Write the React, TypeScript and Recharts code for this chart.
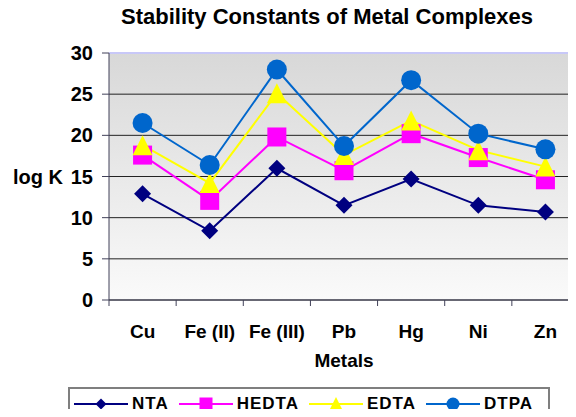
import React from "react";
import { LineChart, Line, XAxis, YAxis, CartesianGrid, ReferenceLine } from "recharts";

// values
const metals = ["Cu", "Fe (II)", "Fe (III)", "Pb", "Hg", "Ni", "Zn"];
const nta = [12.9, 8.4, 16.0, 11.5, 14.7, 11.5, 10.7];
const hedta = [17.6, 12.1, 19.8, 15.7, 20.2, 17.3, 14.6];
const edta = [18.8, 14.2, 25.1, 17.6, 21.8, 18.2, 16.2];
const dtpa = [21.5, 16.4, 28.0, 18.7, 26.7, 20.2, 18.3];
const yTicks = [0, 5, 10, 15, 20, 25, 30];

const data = metals.map((m, i) => ({
  metal: m,
  NTA: nta[i],
  HEDTA: hedta[i],
  EDTA: edta[i],
  DTPA: dtpa[i],
}));

const CHART_W = 590;
const CHART_H = 417;
const Y_AXIS_W = 109;
const MARGIN_R = 11;
const PLOT_W = CHART_W - Y_AXIS_W - MARGIN_R;
const STEP = PLOT_W / metals.length;
const AXIS_COLOR = "#404058";
const FONT = "'Liberation Sans', Arial, sans-serif";

const series = [
  { key: "NTA", color: "#000080", shape: "diamond" },
  { key: "HEDTA", color: "#FF00FF", shape: "square" },
  { key: "EDTA", color: "#FFFF00", shape: "triangle" },
  { key: "DTPA", color: "#0066CC", shape: "circle" },
];

function Marker({ shape, cx, cy, color, s }: { shape: string; cx: number; cy: number; color: string; s: number }) {
  if (shape === "diamond") {
    return <path d={`M${cx},${cy - s}L${cx + s},${cy}L${cx},${cy + s}L${cx - s},${cy}Z`} fill={color} />;
  }
  if (shape === "square") {
    return <rect x={cx - s} y={cy - s} width={s * 2} height={s * 2} fill={color} />;
  }
  if (shape === "triangle") {
    return <path d={`M${cx},${cy - s}L${cx + s},${cy + s}L${cx - s},${cy + s}Z`} fill={color} />;
  }
  return <circle cx={cx} cy={cy} r={s} fill={color} />;
}

const dotSize: Record<string, number> = { diamond: 8.5, square: 9.5, triangle: 10, circle: 10 };
const legendSize: Record<string, number> = { diamond: 5.5, square: 6.5, triangle: 7, circle: 6.5 };

function XTick(props: any) {
  const { x, y, payload, index } = props;
  return (
    <g>
      <line x1={x - STEP / 2} y1={y} x2={x - STEP / 2} y2={y + 6} stroke={AXIS_COLOR} />
      {index === metals.length - 1 && (
        <line x1={x + STEP / 2} y1={y} x2={x + STEP / 2} y2={y + 6} stroke={AXIS_COLOR} />
      )}
      <text x={x} y={y + 38} textAnchor="middle" fontSize={19} fontWeight="bold" fill="#000" fontFamily={FONT}>
        {payload.value}
      </text>
    </g>
  );
}

function LegendBox() {
  return (
    <div
      style={{
        position: "absolute",
        left: 68,
        top: 387,
        boxSizing: "border-box",
        width: 482,
        height: 34,
        border: "2px solid #7f7f7f",
        display: "flex",
        alignItems: "flex-start",
        paddingTop: 5,
        paddingLeft: 4,
        fontFamily: FONT,
        fontWeight: "bold",
        fontSize: 17,
        lineHeight: "20px",
        letterSpacing: 1,
        color: "#000",
      }}
    >
      {series.map((s) => (
        <div key={s.key} style={{ display: "flex", alignItems: "center", marginRight: 10 }}>
          <svg width={54} height={20} style={{ display: "block" }}>
            <line x1={0} y1={10} x2={54} y2={10} stroke={s.color} strokeWidth={2} />
            <Marker shape={s.shape} cx={27} cy={10} color={s.color} s={legendSize[s.shape]} />
          </svg>
          <span style={{ marginLeft: 4 }}>{s.key}</span>
        </div>
      ))}
    </div>
  );
}

export default function App() {
  return (
    <div style={{ position: "relative", width: 576, height: 417, overflow: "hidden", margin: -8, background: "#fff" }}>
      <svg width={0} height={0} style={{ position: "absolute" }}>
        <defs>
          <linearGradient id="plotBg" x1="0" y1="0" x2="0" y2="1">
            <stop offset="0%" stopColor="#d8d8d8" />
            <stop offset="100%" stopColor="#fafafa" />
          </linearGradient>
        </defs>
      </svg>
      <div
        style={{
          position: "absolute",
          left: 0,
          top: 4,
          width: 654,
          textAlign: "center",
          fontFamily: FONT,
          fontWeight: "bold",
          fontSize: 22,
          zIndex: 1,
        }}
      >
        Stability Constants of Metal Complexes
      </div>
      <LineChart width={CHART_W} height={CHART_H} data={data} margin={{ top: 53, right: MARGIN_R, bottom: 32, left: 0 }}>
        <CartesianGrid vertical={false} stroke="#222" fill="url(#plotBg)" fillOpacity={1} />
        <ReferenceLine y={30} stroke="#c8c8f8" strokeWidth={2} />
        <XAxis
          dataKey="metal"
          padding={{ left: STEP / 2, right: STEP / 2 }}
          height={85}
          tickSize={0}
          tickMargin={0}
          tickLine={false}
          stroke={AXIS_COLOR}
          tick={<XTick />}
          interval={0}
          label={{ value: "Metals", position: "insideBottom", offset: 18, fontSize: 19, fontWeight: "bold", fill: "#000", fontFamily: FONT }}
        />
        <YAxis
          width={Y_AXIS_W}
          domain={[0, 30]}
          ticks={yTicks}
          tickSize={7}
          tickMargin={9}
          stroke={AXIS_COLOR}
          tick={{ fontSize: 20, fontWeight: "bold", fill: "#000", fontFamily: FONT }}
          label={{ value: "log K", position: "insideLeft", offset: 13, fontSize: 20, fontWeight: "bold", fill: "#000", fontFamily: FONT }}
        />
        {series.map((s) => (
          <Line
            key={s.key}
            dataKey={s.key}
            stroke={s.color}
            strokeWidth={2}
            isAnimationActive={false}
            dot={(p: any) => <Marker key={`${s.key}-${p.index}`} shape={s.shape} cx={p.cx} cy={p.cy} color={s.color} s={dotSize[s.shape]} />}
            activeDot={false}
          />
        ))}
      </LineChart>
      <LegendBox />
    </div>
  );
}
